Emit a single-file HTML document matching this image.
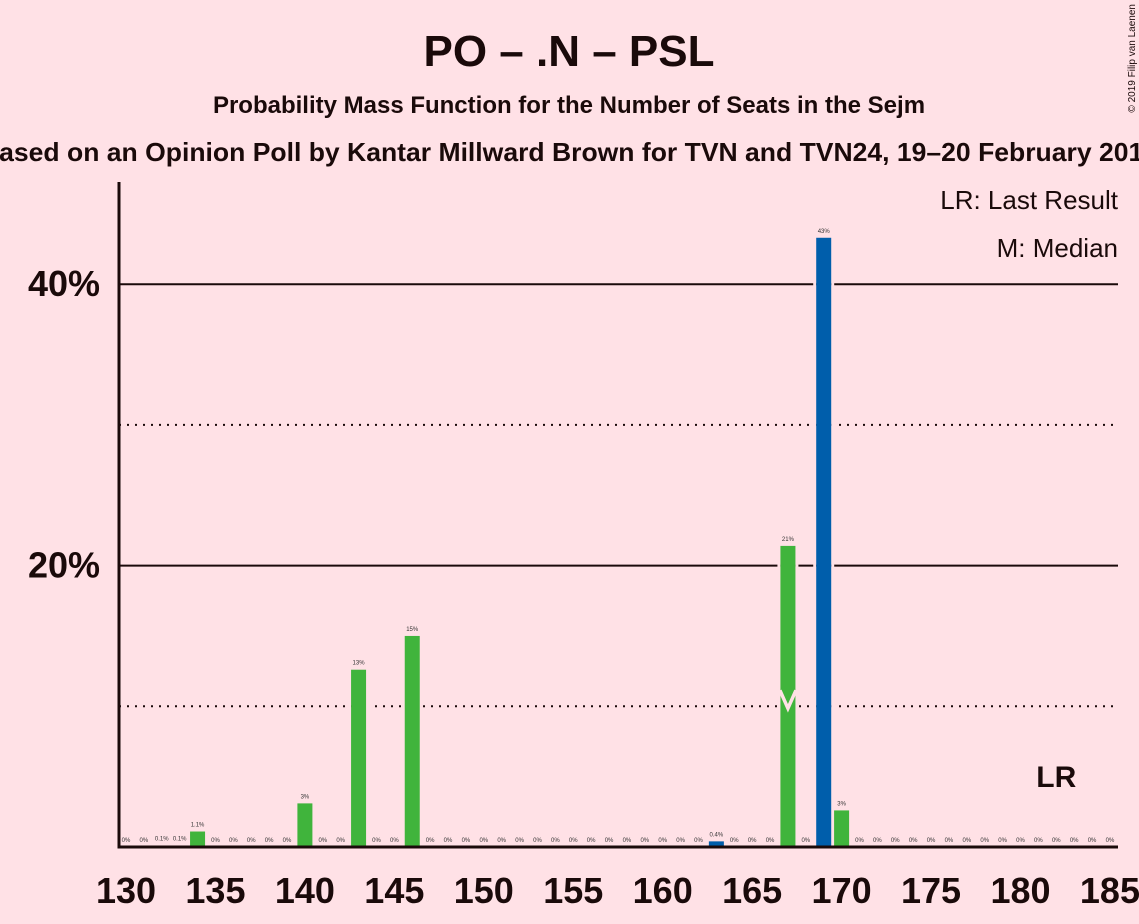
<!DOCTYPE html>
<html><head><meta charset="utf-8"><style>
body{margin:0;background:#ffe1e6;}
svg{display:block;font-family:"Liberation Sans",sans-serif;}
</style></head><body>
<svg id="c" width="1139" height="924">
<rect width="1139" height="924" fill="#ffe1e6"/>
<text x="569" y="66" text-anchor="middle" font-size="44" font-weight="bold" fill="#1a0a0a">PO – .N – PSL</text>
<text x="569" y="113" text-anchor="middle" font-size="24" font-weight="bold" fill="#1a0a0a">Probability Mass Function for the Number of Seats in the Sejm</text>
<text x="569" y="161" text-anchor="middle" font-size="26" font-weight="bold" fill="#1a0a0a" textLength="1178" lengthAdjust="spacingAndGlyphs">Based on an Opinion Poll by Kantar Millward Brown for TVN and TVN24, 19–20 February 2019</text>
<text x="1135" y="4" font-size="10" fill="#1a0a0a" transform="rotate(-90 1135 4)" text-anchor="end">© 2019 Filip van Laenen</text>
<text x="1118" y="209" text-anchor="end" font-size="26" fill="#1a0a0a">LR: Last Result</text>
<text x="1118" y="257" text-anchor="end" font-size="26" fill="#1a0a0a">M: Median</text>
<g id="grid"></g><g id="bars"></g><g id="axes"></g>
</svg>
<script>
const seats=[];for(let s=130;s<=185;s++)seats.push(s);
const probs=[0,0,0.1,0.1,1.1,0,0,0,0,0,3.1,0,0,12.6,0,0,15.0,0,0,0,0,0,0,0,0,0,0,0,0,0,0,0,0,0.4,0,0,0,21.4,0,43.3,2.6,0,0,0,0,0,0,0,0,0,0,0,0,0,0,0];
const blueSeats=[163,169];
const labels=["0%","0%","0.1%","0.1%","1.1%","0%","0%","0%","0%","0%","3%","0%","0%","13%","0%","0%","15%","0%","0%","0%","0%","0%","0%","0%","0%","0%","0%","0%","0%","0%","0%","0%","0%","0.4%","0%","0%","0%","21%","0%","43%","3%","0%","0%","0%","0%","0%","0%","0%","0%","0%","0%","0%","0%","0%","0%","0%"];
const xTicks=[130,135,140,145,150,155,160,165,170,175,180,185];
const yMajor=[20,40];const yMinor=[10,30];
const median=167, lastResult=182;
const NS="http://www.w3.org/2000/svg";
const X=s=>126+(s-130)*17.89;
const Y=p=>847-p*14.07;
function mk(t,a,parent){const e=document.createElementNS(NS,t);for(const k in a)e.setAttribute(k,a[k]);parent.appendChild(e);return e;}
const G=document.getElementById('grid'),B=document.getElementById('bars'),A=document.getElementById('axes');
yMinor.forEach(v=>{const l=mk('line',{x1:119,x2:1118,y1:Y(v),y2:Y(v),stroke:'#1a0a0a','stroke-width':2,'stroke-dasharray':'2,6'},G);

});
yMajor.forEach(v=>{const l=mk('line',{x1:119,x2:1118,y1:Y(v),y2:Y(v),stroke:'#1a0a0a','stroke-width':2},G);


const t=mk('text',{x:100,y:Y(v)+12,'text-anchor':'end','font-size':36,'font-weight':'bold',fill:'#1a0a0a'},A);t.textContent=v+'%';

});
seats.forEach((s,i)=>{const p=probs[i];const cx=X(s);
if(p>0){const col=blueSeats.includes(s)?'#005eab':'#40b43c';
const r=mk('rect',{x:cx-7.5,y:Y(p),width:15,height:847-Y(p),fill:col},B);


[...yMajor,...yMinor].forEach(v=>{if(Y(v)>Y(p)){mk('rect',{x:cx-10.5,y:Y(v)-2,width:3,height:4,fill:'#ffe1e6'},G);mk('rect',{x:cx+7.5,y:Y(v)-2,width:3,height:4,fill:'#ffe1e6'},G);}});}
const t=mk('text',{x:cx,y:Y(p)-5,'text-anchor':'middle','font-size':6,fill:'#333'},B);t.textContent=labels[i];

});
const mx=X(median),my=Y(10);
const m=mk('polyline',{points:`${mx-8},${my-16} ${mx},${my+2} ${mx+8},${my-16}`,fill:'none',stroke:'#ffe1e6','stroke-width':3.5},B);


const lr=mk('text',{x:X(lastResult),y:787,'text-anchor':'middle','font-size':30,'font-weight':'bold',fill:'#1a0a0a'},A);lr.textContent='LR';


const ax=mk('polyline',{points:'119,182 119,847 1118,847',fill:'none',stroke:'#1a0a0a','stroke-width':3},A);


xTicks.forEach(s=>{const t=mk('text',{x:X(s),y:903,'text-anchor':'middle','font-size':36,'font-weight':'bold',fill:'#1a0a0a'},A);t.textContent=s;

});
</script>
</body></html>
